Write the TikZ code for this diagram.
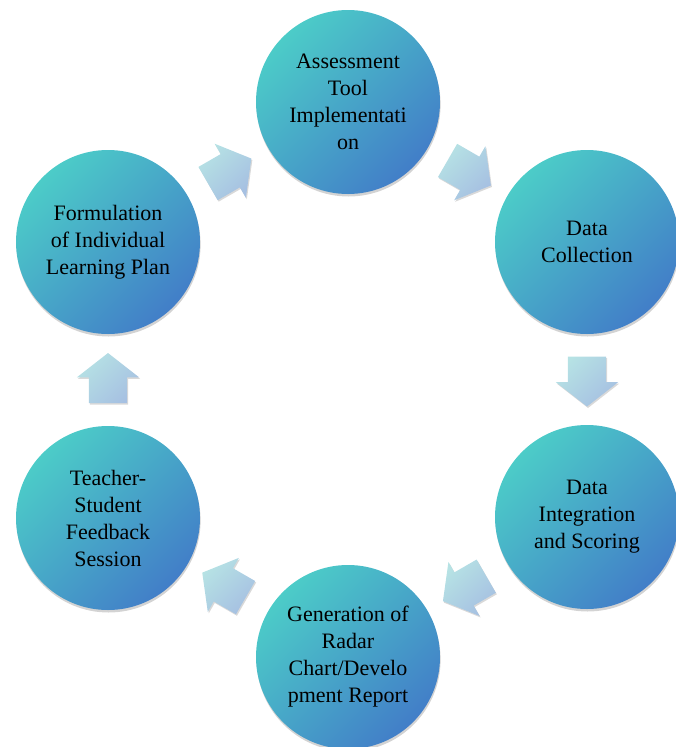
\documentclass[tikz,border=0pt]{standalone}
\usepackage{fontspec}
\setmainfont{Liberation Serif}
\usetikzlibrary{shapes.arrows,shadows,calc}
\definecolor{cTeal}{RGB}{76,204,200}
\definecolor{cBlue}{RGB}{66,126,200}
\definecolor{aCyan}{RGB}{182,226,228}
\definecolor{aBlue}{RGB}{166,192,226}
\begin{document}
\begin{tikzpicture}[x=1pt,y=-1pt,
  stage/.style={circle, minimum size=184pt, inner sep=0pt, align=center,
    font=\fontsize{22}{27}\selectfont, text=black,
    top color=cTeal, bottom color=cBlue, shading angle=45,
    drop shadow={shadow xshift=0.6pt, shadow yshift=-2.5pt, opacity=0.35}},
  flow/.style={single arrow, minimum height=50pt, inner xsep=0pt, inner ysep=19pt,
    single arrow head extend=12pt, single arrow tip angle=104,
    top color=aCyan, bottom color=aBlue, shading angle=45,
    drop shadow={shadow xshift=1pt, shadow yshift=-1.5pt, opacity=0.3}}]
\useasboundingbox (0,0) rectangle (675,747);
\node[stage] (s1) at (348,102) {Assessment\\Tool\\Implementati\\on};
\node[stage] (s2) at (587,242) {Data\\Collection};
\node[stage] (s3) at (587,517) {Data\\Integration\\and Scoring};
\node[stage] (s4) at (348,657) {Generation of\\Radar\\Chart/Develo\\pment Report};
\node[stage] (s5) at (108,518) {Teacher-\\Student\\Feedback\\Session};
\node[stage] (s6) at (108,242) {Formulation\\of Individual\\Learning Plan};
\node[flow, rotate=-30]  (a1) at ($(s1)!0.48!(s2)$) {};
\node[flow, rotate=-90]  (a2) at ($(s2)!0.48!(s3)$) {};
\node[flow, rotate=-150] (a3) at ($(s3)!0.485!(s4)$) {};
\node[flow, rotate=150]  (a4) at ($(s4)!0.49!(s5)$) {};
\node[flow, rotate=90]   (a5) at ($(s5)!0.48!(s6)$) {};
\node[flow, rotate=30]   (a6) at ($(s6)!0.48!(s1)$) {};
\end{tikzpicture}
\end{document}
